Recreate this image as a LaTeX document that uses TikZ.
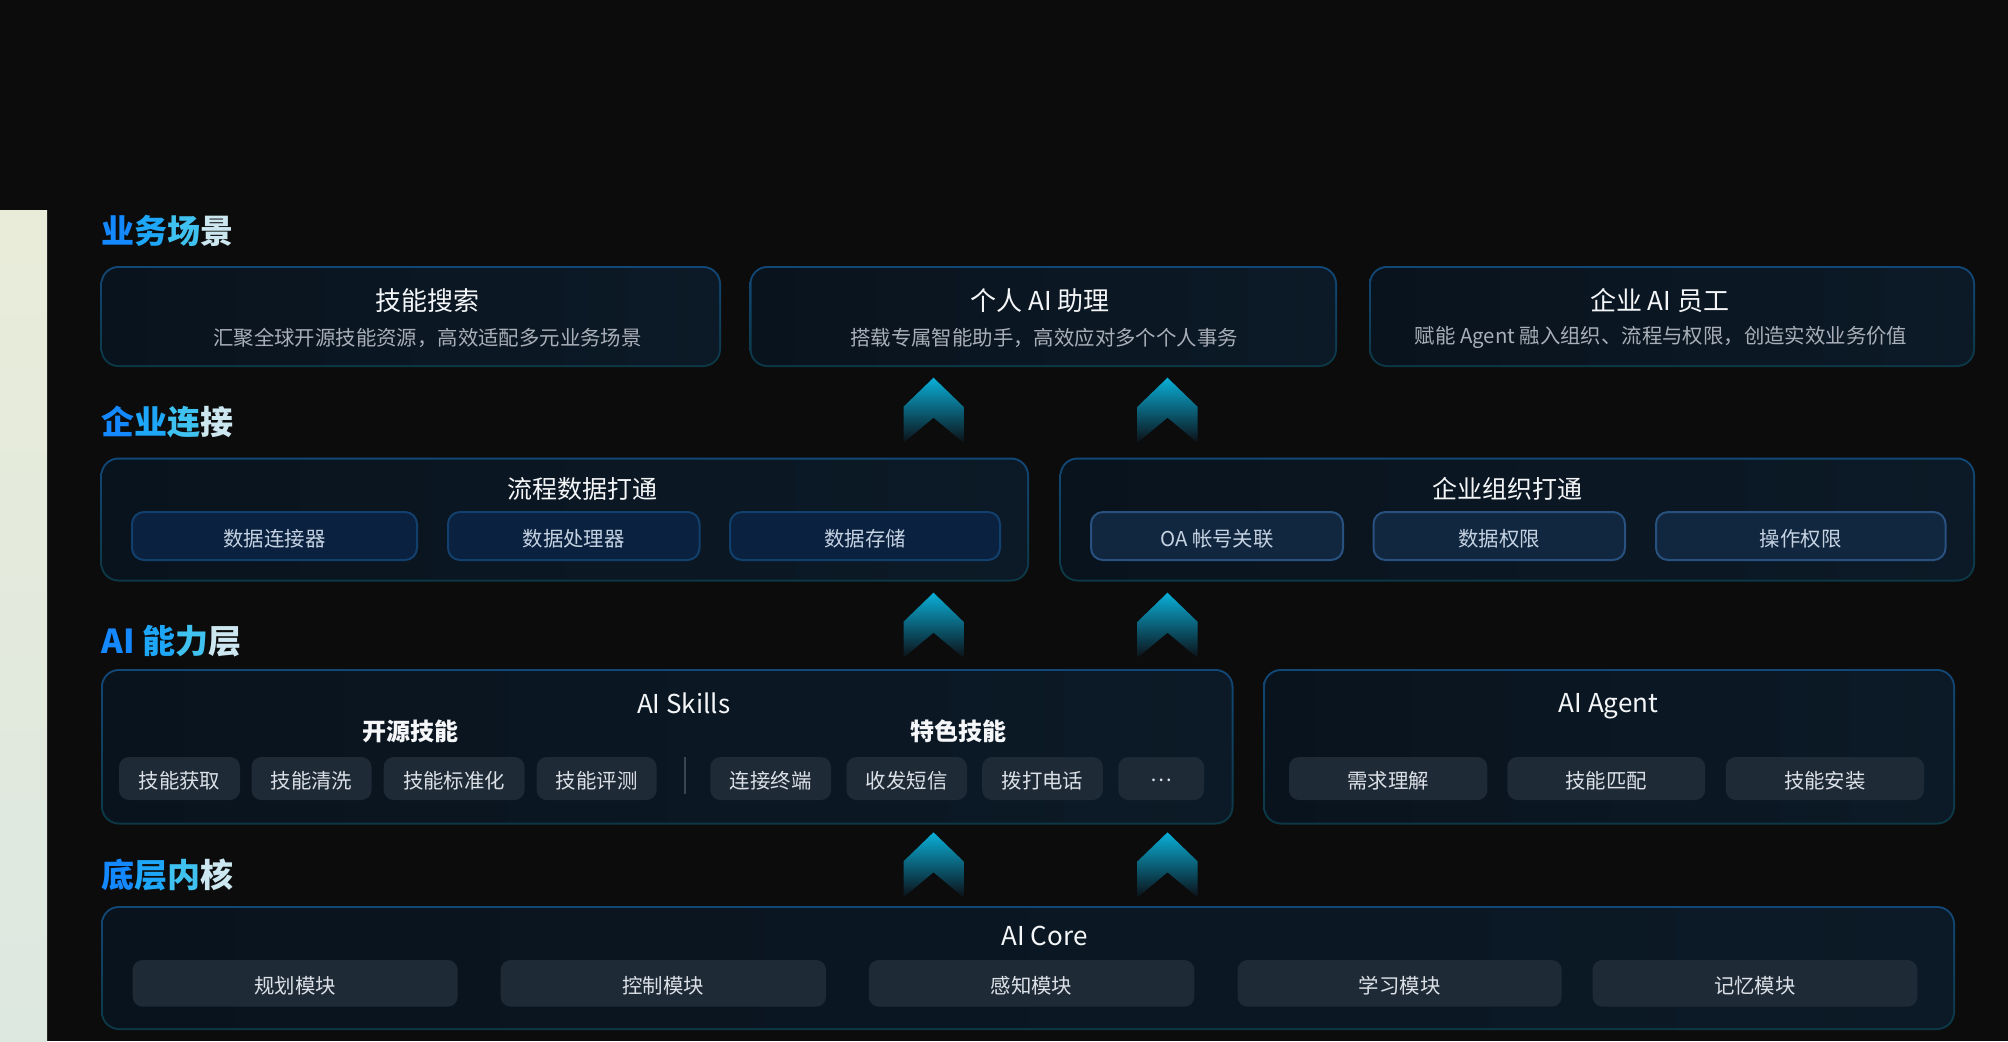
\documentclass[tikz,border=0pt]{standalone}
\usepackage{fontspec}
\setmainfont{Noto Sans CJK SC}
\usetikzlibrary{fit}
\definecolor{bg}{HTML}{0C0C0C}
\definecolor{stripA}{HTML}{E9ECD9}
\definecolor{stripB}{HTML}{DDE8E1}
\definecolor{boxA}{HTML}{09131D}
\definecolor{boxB}{HTML}{0C1A27}
\definecolor{lineTop}{HTML}{124878}
\definecolor{lineBot}{HTML}{0C3844}
\definecolor{subLfill}{HTML}{0A2140}
\definecolor{subLline}{HTML}{12406C}
\definecolor{subRfill}{HTML}{11273F}
\definecolor{subRline}{HTML}{29517F}
\definecolor{chipfill}{HTML}{1F2A37}
\definecolor{titlec}{HTML}{F4F6F8}
\definecolor{subc}{HTML}{A9AFB8}
\definecolor{subboxc}{HTML}{C5D2E2}
\definecolor{chipc}{HTML}{DCE1E7}
\definecolor{sepc}{HTML}{3A4552}
\definecolor{chevA}{HTML}{0AAFD8}
\definecolor{chevB}{HTML}{0A6A95}
\definecolor{chevC}{HTML}{0C1016}
\definecolor{g1}{HTML}{1488FF}
\definecolor{g2}{HTML}{1EA6F8}
\definecolor{g3}{HTML}{40C2F0}
\definecolor{g4}{HTML}{8FD5F0}
\definecolor{g5}{HTML}{CDE7F1}
\newcommand\bigbox[5]{%
  \node[bbout, fit={(#2,#3)(#4,#5)}] (#1) {};
  \node[bbin, fit={(#2+2,#3+2)(#4-2,#5-2)}] (#1-in) {};}
\newcommand\tagbox[7]{%
  \node[#1, fit={(#3,#4)(#5,#6)}] (#2) {};
  \node[#1text] (#2-t) at (#2.center) {#7};}
\begin{document}
\begin{tikzpicture}[x=0.5pt,y=-0.5pt,
  emb/.style={text height=0.88em, text depth=0.12em},
  bbout/.style={top color=lineTop, bottom color=lineBot, rounded corners=9pt, inner sep=0pt, draw=none},
  bbin/.style={left color=boxA, right color=boxB, rounded corners=8pt, inner sep=0pt, draw=none},
  subL/.style={draw=subLline, fill=subLfill, line width=1pt, rounded corners=6pt, inner sep=0pt},
  subR/.style={draw=subRline, fill=subRfill, line width=1pt, rounded corners=6pt, inner sep=0pt},
  chip/.style={fill=chipfill, rounded corners=5pt, inner sep=0pt},
  subLtext/.style={emb, text=subboxc, font=\fontsize{10.2}{12}\selectfont, inner sep=0pt, yshift=-1.2pt},
  subRtext/.style={emb, text=subboxc, font=\fontsize{10.2}{12}\selectfont, inner sep=0pt, yshift=-1.2pt},
  chiptext/.style={emb, text=chipc, font=\fontsize{10.2}{12}\selectfont, inner sep=0pt, yshift=-1.2pt},
  sect/.style={anchor=west, inner sep=0pt, font=\bfseries\fontsize{16.5}{18}\selectfont},
  btitle/.style={text=titlec, inner sep=0pt, font=\fontsize{13}{15}\selectfont},
  bsub/.style={text=subc, inner sep=0pt, font=\fontsize{10.2}{12}\selectfont},
  gtitle/.style={text=titlec, inner sep=0pt, font=\fontsize{12.5}{14}\selectfont},
  glabel/.style={text=titlec, inner sep=0pt, font=\bfseries\fontsize{12}{14}\selectfont},
  pics/chev/.style={code={
    \shade[top color=chevA, middle color=chevB, bottom color=chevC]
      (0,0) -- (30,29) -- (30,65) -- (0,40) -- (-30,65) -- (-30,29) -- cycle;}}
]
\fill[bg] (0,0) rectangle (2008,1041);
\useasboundingbox (0,0) rectangle (2008,1041);
\shade[top color=stripA, bottom color=stripB] (0,210) rectangle (47,1041);

% section titles
\node[sect] (s1) at (101,231) {\color{g1}业\color{g2}务\color{g3}场\color{g5}景};
\node[sect] (s2) at (101,422) {\color{g1}企\color{g2}业\color{g3}连\color{g5}接};
\node[sect] (s3) at (101,641) {\color{g1}A\color{g1}I \color{g2}能\color{g3}力\color{g5}层};
\node[sect] (s4) at (101,875) {\color{g1}底\color{g2}层\color{g3}内\color{g5}核};

% row 1
\bigbox{b1}{100.5}{266}{721}{367}
\bigbox{b2}{749.5}{266}{1337}{367}
\bigbox{b3}{1369}{266}{1975}{367}
\node[btitle] (b1t) at (427.6,301) {技能搜索};
\node[bsub] (b1s) at (427.5,337.5) {汇聚全球开源技能资源，高效适配多元业务场景};
\node[btitle] (b2t) at (1040,301) {个人 AI 助理};
\node[bsub] (b2s) at (1044,337.5) {搭载专属智能助手，高效应对多个个人事务};
\node[btitle] (b3t) at (1659.6,301) {企业 AI 员工};
\node[bsub] (b3s) at (1661,337.5) {赋能 Agent 融入组织、流程与权限，创造实效业务价值};

% chevrons
\pic at (933.5,377.7) {chev};
\pic at (1167.5,377.7) {chev};
\pic at (933.5,592.7) {chev};
\pic at (1167.5,592.7) {chev};
\pic at (933.5,832.3) {chev};
\pic at (1167.5,832.3) {chev};

% row 2
\bigbox{c1}{100.5}{457.5}{1029}{581.5}
\bigbox{c2}{1059.6}{457.5}{1975}{581.5}
\node[gtitle] (c1t) at (582,489) {流程数据打通};
\node[gtitle] (c2t) at (1507,489) {企业组织打通};
\tagbox{subL}{d1}{132}{512}{417}{560}{数据连接器}
\tagbox{subL}{d2}{448}{512}{699.5}{560}{数据处理器}
\tagbox{subL}{d3}{730}{512}{1000}{560}{数据存储}
\tagbox{subR}{e1}{1091}{512}{1343}{560}{OA 帐号关联}
\tagbox{subR}{e2}{1373.5}{512}{1625}{560}{数据权限}
\tagbox{subR}{e3}{1656}{512}{1945.5}{560}{操作权限}

% row 3
\bigbox{sk}{101}{669}{1233.5}{824.5}
\bigbox{ag}{1263}{669}{1955}{824.5}
\node[btitle] (skt) at (683.7,703) {AI Skills};
\node[btitle, text depth=0pt] (agt) at (1608.5,703) {AI Agent};
\node[glabel] (g1l) at (410,731.7) {开源技能};
\node[glabel] (g2l) at (958.6,731.7) {特色技能};
\tagbox{chip}{k1}{119}{757}{240}{800}{技能获取}
\tagbox{chip}{k2}{251.5}{757}{371.5}{800}{技能清洗}
\tagbox{chip}{k3}{383.7}{757}{524.5}{800}{技能标准化}
\tagbox{chip}{k4}{536.7}{757}{656.6}{800}{技能评测}
\coordinate (sepA) at (684.7,757);
\coordinate (sepB) at (684.7,794);
\draw[sepc, line width=1pt] (sepA) -- (sepB);
\tagbox{chip}{k5}{710.4}{757}{831}{800}{连接终端}
\tagbox{chip}{k6}{846.5}{757}{967}{800}{收发短信}
\tagbox{chip}{k7}{982.2}{757}{1102.8}{800}{拨打电话}
\tagbox{chip}{k8}{1118.4}{757}{1204}{800}{\raisebox{0.32em}{…}}
\tagbox{chip}{a1}{1289}{757}{1487.3}{800}{需求理解}
\tagbox{chip}{a2}{1507.4}{757}{1705.2}{800}{技能匹配}
\tagbox{chip}{a3}{1725.8}{757}{1924}{800}{技能安装}

% row 4
\bigbox{co}{101}{906}{1955}{1030}
\node[btitle] (cot) at (1044.5,936) {AI Core};
\tagbox{chip}{m1}{132.7}{960}{457.7}{1006.7}{规划模块}
\tagbox{chip}{m2}{500.7}{960}{826}{1006.7}{控制模块}
\tagbox{chip}{m3}{868.8}{960}{1194.3}{1006.7}{感知模块}
\tagbox{chip}{m4}{1237.6}{960}{1561.7}{1006.7}{学习模块}
\tagbox{chip}{m5}{1592.6}{960}{1917.3}{1006.7}{记忆模块}
\end{tikzpicture}
\end{document}
